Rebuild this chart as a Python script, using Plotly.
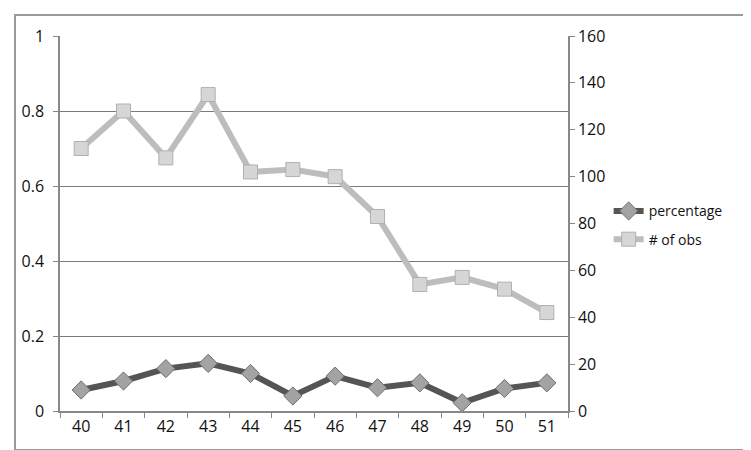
import plotly.graph_objects as go

categories = ["40", "41", "42", "43", "44", "45", "46", "47", "48", "49", "50", "51"]
percentage = [0.056, 0.080, 0.113, 0.127, 0.100, 0.040, 0.093, 0.062, 0.075, 0.022, 0.060, 0.075]
n_obs = [112, 128, 108, 135, 102, 103, 100, 83, 54, 57, 52, 42]
left_ticks = [0, 0.2, 0.4, 0.6, 0.8, 1]
right_ticks = [0, 20, 40, 60, 80, 100, 120, 140, 160]

FONT = "Open Sans"
TICKFONT = dict(family=FONT, size=16, color="#111")
fig = go.Figure()

fig.add_trace(go.Scatter(
    x=categories, y=percentage, name="percentage", mode="lines+markers",
    line=dict(color="#555555", width=6),
    marker=dict(symbol="diamond", size=14, color="#a3a3a3",
                line=dict(color="#6e6e6e", width=1)),
    legendgroup="a",
))
fig.add_trace(go.Scatter(
    x=categories, y=n_obs, name="# of obs", mode="lines+markers", yaxis="y2",
    line=dict(color="#bdbdbd", width=6),
    marker=dict(symbol="square", size=14, color="#d6d6d6",
                line=dict(color="#b0b0b0", width=1)),
    legendgroup="b",
))

fig.update_layout(
    width=751, height=450,
    margin=dict(l=52, r=191, t=28, b=47),
    paper_bgcolor="white", plot_bgcolor="white",
    font=dict(family=FONT, size=14, color="#111"),
    xaxis=dict(type="category", range=[-0.5, 11.5], tickson="boundaries",
               ticks="outside", ticklen=5, tickcolor="#888", tickfont=TICKFONT,
               showline=True, linecolor="#888", linewidth=1.5,
               showgrid=False, zeroline=False),
    yaxis=dict(range=[0, 1], tickvals=left_ticks, ticks="outside", ticklen=5,
               tickcolor="#888", tickfont=TICKFONT,
               showline=True, linecolor="#888", linewidth=1.5,
               showgrid=True, gridcolor="#7a7a7a", gridwidth=1.2, zeroline=False,
               ticklabelstandoff=6),
    yaxis2=dict(range=[0, 160], tickvals=right_ticks, overlaying="y", side="right",
                ticks="outside", ticklen=5, tickcolor="#888", tickfont=TICKFONT,
                showline=True, linecolor="#888", linewidth=1.5,
                showgrid=False, zeroline=False),
    legend=dict(x=1.08, xanchor="left", y=0.495, yanchor="middle",
                tracegroupgap=7, bgcolor="rgba(0,0,0,0)",
                font=dict(family=FONT, size=14, color="#111")),
    shapes=[dict(type="rect", xref="paper", yref="paper",
                 x0=-0.0886, x1=1.360, y0=-0.104, y1=1.056,
                 line=dict(color="#9a9a9a", width=2))],
)

fig.write_html("out.html")
